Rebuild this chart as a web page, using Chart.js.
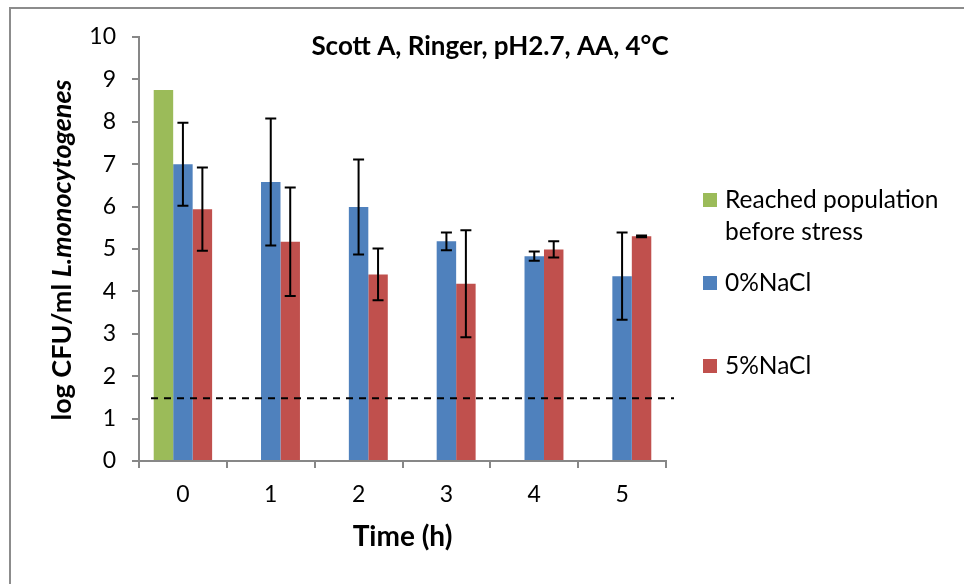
<!DOCTYPE html>
<html>
<head>
<meta charset="utf-8">
<title>Scott A survival</title>
<script src="https://cdn.jsdelivr.net/npm/chart.js@4.4.0/dist/chart.umd.min.js"></script>
<style>
  html, body { margin: 0; padding: 0; background: #fff; }
  #wrap { width: 964px; height: 584px; position: relative; }
</style>
</head>
<body>
<div id="wrap"><canvas id="survivalChart" width="964" height="584"></canvas></div>
<script>
// Time points (h)
const timeLabels = ['0', '1', '2', '3', '4', '5'];

// log CFU/ml means and standard deviations
const reachedPopulation = [8.75, null, null, null, null, null];
const nacl0Mean = [7.00, 6.58, 5.99, 5.18, 4.83, 4.36];
const nacl0Err = [0.98, 1.50, 1.12, 0.21, 0.11, 1.03];
const nacl5Mean = [5.94, 5.17, 4.40, 4.18, 4.99, 5.30];
const nacl5Err = [0.98, 1.28, 0.61, 1.26, 0.19, 0.02];

// detection limit (dashed line)
const detectionLimit = 1.48;

const chartTitle = 'Scott A, Ringer, pH2.7, AA, 4°C';
const FONT = 'Lato, "Open Sans", sans-serif';
const AXIS_GREY = '#878787';

// legend rows: lines of text and baseline of the first line
const legendRows = [
  { lines: ['Reached population', 'before stress'], y: 208 },
  { lines: ['0%NaCl'], y: 291 },
  { lines: ['5%NaCl'], y: 374 },
];

// frame, title, y title, legend, error bars and the detection line
const decorations = {
  id: 'decorations',
  beforeDraw(chart) {
    const ctx = chart.ctx;
    ctx.save();
    ctx.fillStyle = '#fff';
    ctx.fillRect(0, 0, chart.width, chart.height);
    ctx.strokeStyle = '#8c8c8c';
    ctx.lineWidth = 2;
    ctx.beginPath();
    ctx.moveTo(10, chart.height);
    ctx.lineTo(10, 8);
    ctx.lineTo(chart.width, 8);
    ctx.stroke();
    ctx.restore();
  },
  afterDatasetsDraw(chart) {
    const ctx = chart.ctx;
    const y = chart.scales.y;
    const area = chart.chartArea;

    // error bars
    ctx.save();
    ctx.strokeStyle = '#000';
    ctx.lineWidth = 2;
    chart.data.datasets.forEach((ds, i) => {
      if (!ds.errors) return;
      const meta = chart.getDatasetMeta(i);
      meta.data.forEach((bar, j) => {
        const v = ds.data[j];
        if (v == null) return;
        const top = y.getPixelForValue(v + ds.errors[j]);
        const bot = y.getPixelForValue(v - ds.errors[j]);
        const cap = 5.5;
        ctx.beginPath();
        ctx.moveTo(bar.x, top); ctx.lineTo(bar.x, bot);
        ctx.moveTo(bar.x - cap, top); ctx.lineTo(bar.x + cap, top);
        ctx.moveTo(bar.x - cap, bot); ctx.lineTo(bar.x + cap, bot);
        ctx.stroke();
      });
    });

    // detection limit
    const ly = y.getPixelForValue(detectionLimit);
    ctx.setLineDash([7, 6]);
    ctx.beginPath();
    ctx.moveTo(area.left + 12, ly);
    ctx.lineTo(area.right + 8, ly);
    ctx.stroke();
    ctx.restore();
  },
  afterDraw(chart) {
    const ctx = chart.ctx;
    ctx.save();
    ctx.fillStyle = '#000';

    // title
    ctx.font = 'bold 26px ' + FONT;
    ctx.textAlign = 'center';
    ctx.textBaseline = 'middle';
    ctx.fillText(chartTitle, 490, 47);

    // y axis title, upright part and italic species name
    const a = 'log CFU/ml ';
    const b = 'L.monocytogenes';
    const fa = 'bold 27px ' + FONT;
    const fb = 'italic bold 27px ' + FONT;
    ctx.font = fa; const wa = ctx.measureText(a).width;
    ctx.font = fb; const wb = ctx.measureText(b).width;
    ctx.translate(62, 250);
    ctx.rotate(-Math.PI / 2);
    ctx.textAlign = 'left';
    ctx.font = fa; ctx.fillText(a, -(wa + wb) / 2, 0);
    ctx.font = fb; ctx.fillText(b, -(wa + wb) / 2 + wa, 0);
    ctx.setTransform(1, 0, 0, 1, 0, 0);

    // legend
    ctx.font = '24.5px ' + FONT;
    ctx.textBaseline = 'alphabetic';
    chart.data.datasets.forEach((ds, i) => {
      const row = legendRows[i];
      ctx.fillStyle = ds.backgroundColor;
      ctx.fillRect(703, row.y - 15, 14, 14);
      ctx.fillStyle = '#000';
      row.lines.forEach((t, k) => ctx.fillText(t, 725, row.y + k * 32));
    });
    ctx.restore();
  }
};

new Chart(document.getElementById('survivalChart'), {
  type: 'bar',
  data: {
    labels: timeLabels,
    datasets: [
      { label: 'Reached population before stress', data: reachedPopulation, backgroundColor: '#9BBB59' },
      { label: '0%NaCl', data: nacl0Mean, errors: nacl0Err, backgroundColor: '#4F81BD' },
      { label: '5%NaCl', data: nacl5Mean, errors: nacl5Err, backgroundColor: '#C0504D' },
    ],
  },
  options: {
    responsive: false,
    animation: false,
    layout: { padding: { top: 37, right: 298, left: 0, bottom: 0 } },
    datasets: { bar: { categoryPercentage: 0.665, barPercentage: 1.0 } },
    plugins: {
      legend: { display: false },
      tooltip: { enabled: false },
    },
    scales: {
      x: {
        grid: { drawOnChartArea: false, tickLength: 7, color: AXIS_GREY, lineWidth: 2, offset: true },
        border: { color: AXIS_GREY, width: 2 },
        ticks: { color: '#000', font: { family: FONT, size: 23 }, padding: 13 },
        title: { display: true, text: 'Time (h)', color: '#000', font: { family: FONT, size: 28, weight: 'bold' }, padding: { top: 10, bottom: 30 } },
        afterFit(scale) { scale.height = 123; },
      },
      y: {
        min: 0,
        max: 10,
        ticks: { stepSize: 1, color: '#000', font: { family: FONT, size: 23 }, padding: 16 },
        grid: { drawOnChartArea: false, tickLength: 7, color: AXIS_GREY, lineWidth: 2 },
        border: { color: AXIS_GREY, width: 2 },
        afterFit(scale) { scale.width = 139; },
      },
    },
  },
  plugins: [decorations],
});
</script>
</body>
</html>
